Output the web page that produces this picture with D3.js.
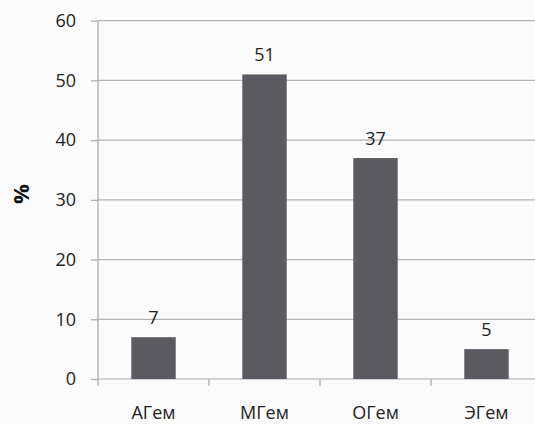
<!DOCTYPE html>
<html>
<head>
<meta charset="utf-8">
<script src="https://cdn.jsdelivr.net/npm/d3@7"></script>
<style>
  html, body { margin: 0; padding: 0; background: #fbfbfb; }
  svg { display: block; }
</style>
</head>
<body>
<script>
// Distribution of forms (%)
const categories = ["АГем", "МГем", "ОГем", "ЭГем"];
const values = [7, 51, 37, 5];
const yTicks = [0, 10, 20, 30, 40, 50, 60];

const W = 535, H = 424;
const left = 98, zeroY = 379, topY = 20.7;
const step = 111;

const svg = d3.select("body").append("svg")
  .attr("width", W).attr("height", H)
  .style("font-family", "'Open Sans', 'DejaVu Sans', sans-serif");

svg.append("rect").attr("width", W).attr("height", H).attr("fill", "#fbfbfb");

const x = d3.scaleBand()
  .domain(categories)
  .range([left, left + step * categories.length])
  .paddingInner(0.6).paddingOuter(0.3);

const y = d3.scaleLinear().domain([0, 60]).range([zeroY, topY]);

// horizontal gridlines
svg.append("g").selectAll("line").data(yTicks.filter(d => d > 0)).join("line")
  .attr("x1", left).attr("x2", W)
  .attr("y1", d => y(d)).attr("y2", d => y(d))
  .attr("stroke", "#b3b3b8").attr("stroke-width", 1.2);

// y axis
const yAxis = svg.append("g").attr("transform", `translate(${left},0)`)
  .call(d3.axisLeft(y).tickValues(yTicks).tickSize(7).tickPadding(15));
yAxis.select(".domain").remove();
yAxis.selectAll(".tick line").attr("stroke", "#a8a8b0").attr("stroke-width", 1.2);
yAxis.selectAll(".tick text").attr("fill", "#222").style("font-size", "18px")
  .style("font-family", "'Open Sans', sans-serif");
svg.append("line").attr("x1", left).attr("x2", left)
  .attr("y1", topY).attr("y2", zeroY + 7)
  .attr("stroke", "#a8a8b0").attr("stroke-width", 1.2);

// x axis baseline with category boundary ticks
svg.append("line").attr("x1", left).attr("x2", W)
  .attr("y1", zeroY).attr("y2", zeroY)
  .attr("stroke", "#a8a8b0").attr("stroke-width", 1.2);
svg.append("g").selectAll("line").data(categories.slice(1)).join("line")
  .attr("x1", d => x(d) - x.step() * x.paddingInner() / 2)
  .attr("x2", d => x(d) - x.step() * x.paddingInner() / 2)
  .attr("y1", zeroY).attr("y2", zeroY + 7)
  .attr("stroke", "#a8a8b0").attr("stroke-width", 1.2);

svg.append("g").selectAll("text").data(categories).join("text")
  .attr("x", d => x(d) + x.bandwidth() / 2)
  .attr("y", 419)
  .attr("text-anchor", "middle")
  .attr("fill", "#222").style("font-size", "18px")
  .text(d => d);

// bars
svg.append("g").selectAll("rect").data(values).join("rect")
  .attr("x", (d, i) => x(categories[i]))
  .attr("y", d => y(d))
  .attr("width", x.bandwidth())
  .attr("height", d => y(0) - y(d))
  .attr("fill", "#5b5a60");

// value labels
svg.append("g").selectAll("text").data(values).join("text")
  .attr("x", (d, i) => x(categories[i]) + x.bandwidth() / 2)
  .attr("y", d => y(d) - 13)
  .attr("text-anchor", "middle")
  .attr("fill", "#222").style("font-size", "18px")
  .text(d => d);

// y-axis title
svg.append("text")
  .attr("transform", "translate(29,194) rotate(-90)")
  .attr("text-anchor", "middle")
  .attr("fill", "#111").style("font-size", "22px").style("font-weight", "bold")
  .text("%");
</script>
</body>
</html>
